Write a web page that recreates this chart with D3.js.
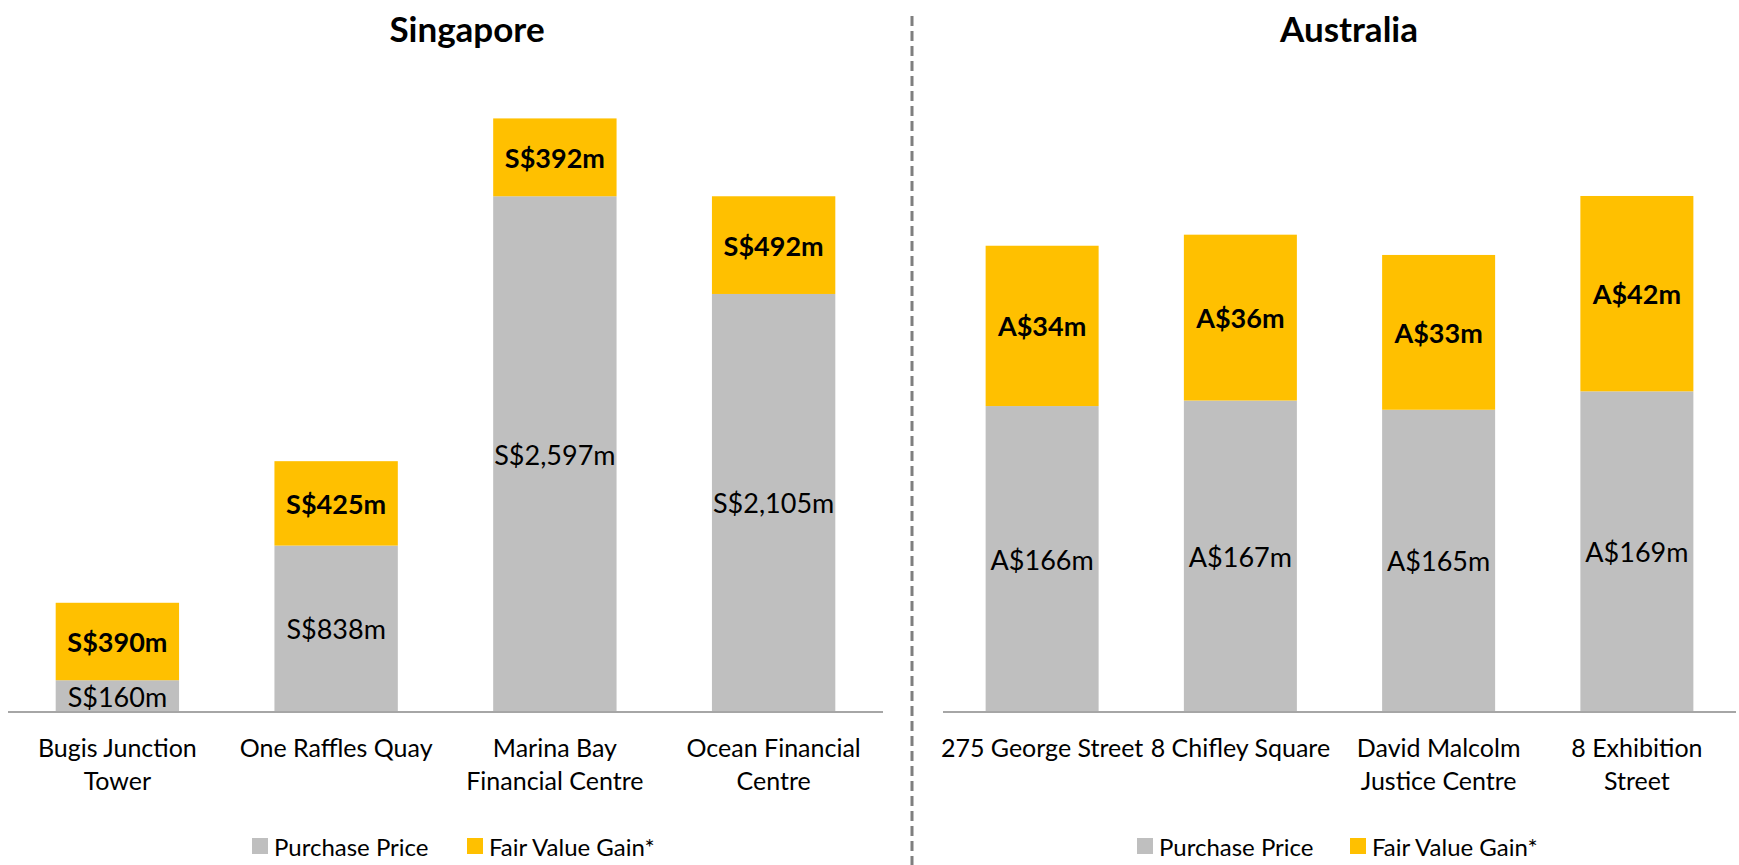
<!DOCTYPE html>
<html><head><meta charset="utf-8">
<script src="https://cdn.jsdelivr.net/npm/d3@7"></script>
<style>body{margin:0;background:#fff} svg{display:block} text{font-family:Lato, "Open Sans", sans-serif; fill:#000}</style>
</head><body><svg id="c" width="1739" height="865"></svg>
<script>
// ---- data ----
const sgTitle = "Singapore";
const sgCategories = [["Bugis Junction","Tower"],["One Raffles Quay"],["Marina Bay","Financial Centre"],["Ocean Financial","Centre"]];
const sgPurchase = [160, 838, 2597, 2105];
const sgGain = [390, 425, 392, 492];
const sgPurchaseLabels = ["S$160m","S$838m","S$2,597m","S$2,105m"];
const sgGainLabels = ["S$390m","S$425m","S$392m","S$492m"];

const auTitle = "Australia";
const auCategories = [["275 George Street"],["8 Chifley Square"],["David Malcolm","Justice Centre"],["8 Exhibition","Street"]];
const auPurchase = [166, 167, 165, 169];
const auGain = [34, 36, 33, 42];
// In the source the Australian segments are not drawn to value scale; these are the segment sizes
const auPurchaseBar = [166, 169, 164, 174];
const auGainBar = [87, 90, 84, 106];
const auPurchaseLabels = auPurchase.map(v => "A$" + v + "m");
const auGainLabels = auGain.map(v => "A$" + v + "m");

const legendLabels = ["Purchase Price", "Fair Value Gain*"];
const colors = ["#bfbfbf", "#ffc000"];

// ---- drawing ----
const svg = d3.select("#c");
const baseY = 712, topY = 8;

function panel(opt) {
  const g = svg.append("g");
  const x = d3.scaleBand().domain(d3.range(opt.purchase.length))
    .range([opt.x0, opt.x1]).paddingInner(opt.pad).paddingOuter(opt.pad / 2);
  const y = d3.scaleLinear().domain([0, opt.yMax]).range([baseY, topY]);
  const idx = d3.range(opt.purchase.length);

  // purchase segments
  g.selectAll(".p").data(idx).join("rect")
    .attr("x", i => x(i)).attr("width", x.bandwidth())
    .attr("y", i => y(opt.purchase[i])).attr("height", i => y(0) - y(opt.purchase[i]))
    .attr("fill", colors[0]);
  // gain segments
  g.selectAll(".g").data(idx).join("rect")
    .attr("x", i => x(i)).attr("width", x.bandwidth())
    .attr("y", i => y(opt.purchase[i] + opt.gain[i]))
    .attr("height", i => y(opt.purchase[i]) - y(opt.purchase[i] + opt.gain[i]))
    .attr("fill", colors[1]);

  // labels
  g.selectAll(".pl").data(idx).join("text")
    .attr("x", i => x(i) + x.bandwidth() / 2)
    .attr("y", i => (y(0) + y(opt.purchase[i])) / 2)
    .attr("text-anchor", "middle").attr("dominant-baseline", "central")
    .style("font-size", "27px")
    .text(i => opt.purchaseLabels[i]);
  g.selectAll(".gl").data(idx).join("text")
    .attr("x", i => x(i) + x.bandwidth() / 2)
    .attr("y", i => (y(opt.purchase[i]) + y(opt.purchase[i] + opt.gain[i])) / 2)
    .attr("text-anchor", "middle").attr("dominant-baseline", "central")
    .style("font-size", "27px").style("font-weight", "bold")
    .text(i => opt.gainLabels[i]);

  // axis (baseline + category labels)
  const ax = g.append("g").attr("transform", `translate(0,${baseY})`)
    .call(d3.axisBottom(x).tickSize(0).tickFormat(""));
  ax.select(".domain").attr("stroke", "#a6a6a6").attr("stroke-width", 2)
    .attr("d", `M${opt.x0},0H${opt.x1}`);
  ax.selectAll(".tick").each(function(i) {
    const t = d3.select(this).append("text")
      .attr("text-anchor", "middle").style("font-size", "25px").attr("fill", "#000");
    opt.categories[i].forEach((line, k) => {
      t.append("tspan").attr("x", 0).attr("y", 35 + k * 33)
        .attr("dominant-baseline", "central").text(line);
    });
  });

  // title
  g.append("text").attr("x", opt.titleX).attr("y", 28)
    .attr("text-anchor", "middle").attr("dominant-baseline", "central")
    .style("font-size", "35px").style("font-weight", "bold").text(opt.title);

  // legend
  const lg = g.append("g");
  legendLabels.forEach((lab, k) => {
    lg.append("rect").attr("x", opt.legendX[k]).attr("y", 838).attr("width", 16).attr("height", 16)
      .attr("fill", colors[k]);
    lg.append("text").attr("x", opt.legendX[k] + 22).attr("y", 846)
      .attr("dominant-baseline", "central").style("font-size", "24px").text(lab);
  });
}

panel({x0: 8, x1: 883, pad: 0.436, yMax: 3545, title: sgTitle, titleX: 467,
  purchase: sgPurchase, gain: sgGain, purchaseLabels: sgPurchaseLabels, gainLabels: sgGainLabels,
  categories: sgCategories, legendX: [252, 467]});
panel({x0: 943, x1: 1736, pad: 0.43, yMax: 382, title: auTitle, titleX: 1349,
  purchase: auPurchaseBar, gain: auGainBar, purchaseLabels: auPurchaseLabels, gainLabels: auGainLabels,
  categories: auCategories, legendX: [1137, 1350]});

// divider
svg.append("line").attr("x1", 912).attr("x2", 912).attr("y1", 16).attr("y2", 865)
  .attr("stroke", "#7f7f7f").attr("stroke-width", 3).attr("stroke-dasharray", "10,5");
</script></body></html>
